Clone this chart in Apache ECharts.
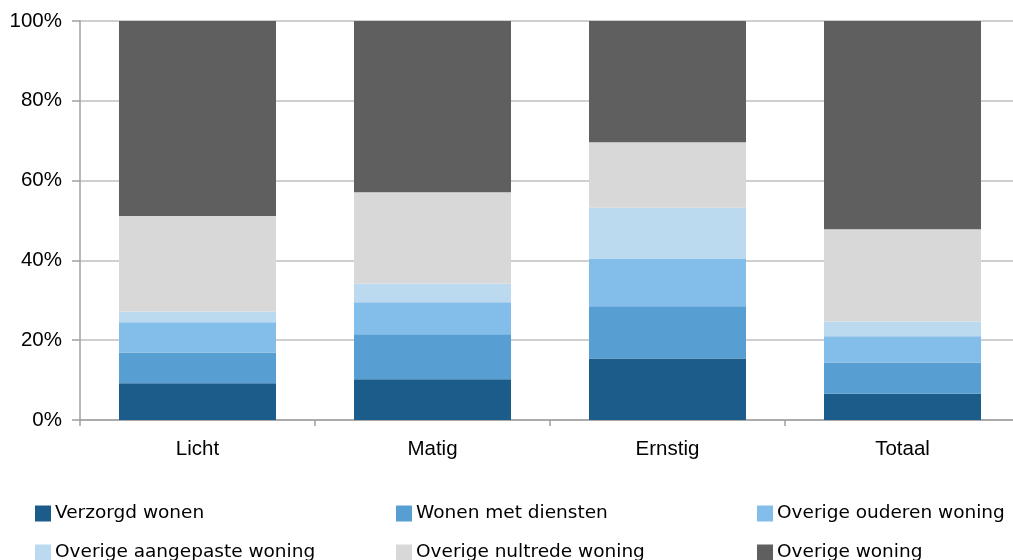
<!DOCTYPE html>
<html>
<head>
<meta charset="utf-8">
<script src="https://cdn.jsdelivr.net/npm/echarts@6/dist/echarts.min.js"></script>
<style>html,body{margin:0;padding:0;background:#fff}#c{width:1013px;height:560px}</style>
</head>
<body>
<div id="c"></div>
<script>
var categories = ['Licht', 'Matig', 'Ernstig', 'Totaal'];
var seriesNames = ['Verzorgd wonen', 'Wonen met diensten', 'Overige ouderen woning',
  'Overige aangepaste woning', 'Overige nultrede woning', 'Overige woning'];
var verzorgd   = [9.2, 10.2, 15.4, 6.6];
var diensten   = [7.7, 11.3, 13.1, 7.8];
var ouderen    = [7.6, 8.0, 12.0, 6.6];
var aangepast  = [2.7, 4.7, 12.7, 3.7];
var nultrede   = [23.9, 22.9, 16.4, 23.1];
var woning     = [48.9, 42.9, 30.4, 52.2];
var yTicks = ['0%', '20%', '40%', '60%', '80%', '100%'];

var colors = ['#1B5C8A', '#579ED2', '#83BDE9', '#BBDAEF', '#D8D8D8', '#5F5F5F'];
var values = [verzorgd, diensten, ouderen, aangepast, nultrede, woning];
var font = 'Liberation Sans, Arial, sans-serif';
var legendFont = 'DejaVu Sans, sans-serif';

var legendPos = [[35, 504], [396, 504], [757, 504], [35, 543], [396, 543], [757, 543]];
var legends = seriesNames.map(function (n, i) {
  return {
    data: [n], left: legendPos[i][0], top: legendPos[i][1], padding: 0,
    itemWidth: 16, itemHeight: 16, icon: 'rect', selectedMode: false,
    textStyle: { fontFamily: legendFont, fontSize: 18.5, color: '#000', padding: [0, 0, 10, -1] }
  };
});

var chart = echarts.init(document.getElementById('c'), null, { renderer: 'canvas' });
chart.setOption({
  animation: false,
  grid: { left: 80, top: 21, width: 940, height: 399, outerBoundsMode: 'none', containLabel: false },
  legend: legends,
  xAxis: {
    type: 'category', data: categories,
    axisLine: { lineStyle: { color: '#A0A0A0', width: 1.5 } },
    axisTick: { show: true, length: 6, lineStyle: { color: '#A0A0A0', width: 1.5 } },
    axisLabel: { fontFamily: font, fontSize: 20.5, color: '#000', margin: 19 }
  },
  yAxis: {
    type: 'value', min: 0, max: 100, interval: 20,
    axisLine: { show: true, lineStyle: { color: '#A0A0A0', width: 1.5 } },
    axisTick: { show: true, length: 8, lineStyle: { color: '#A0A0A0', width: 1.5 } },
    splitLine: { lineStyle: { color: '#BFBFBF', width: 1.5 } },
    axisLabel: {
      fontFamily: font, fontSize: 20.5, color: '#000', margin: 18,
      formatter: function (v) { return yTicks[Math.round(v / 20)]; }
    }
  },
  series: seriesNames.map(function (n, i) {
    return {
      name: n, type: 'bar', stack: 'total', barWidth: 157,
      itemStyle: { color: colors[i] },
      data: values[i]
    };
  })
});
</script>
</body>
</html>
